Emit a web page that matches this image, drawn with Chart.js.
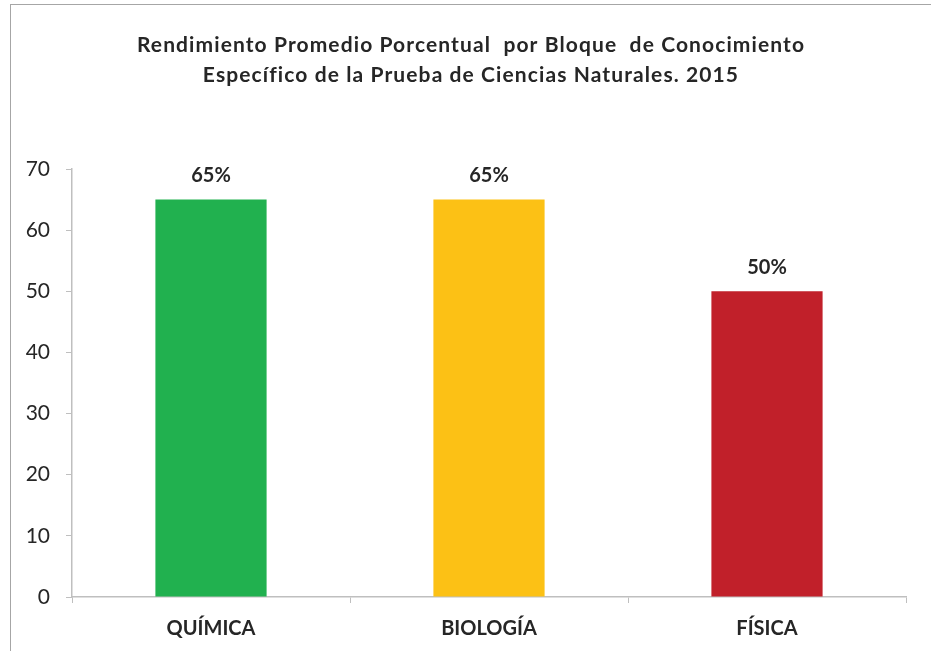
<!DOCTYPE html>
<html lang="es">
  <head>
    <meta charset="utf-8" />
    <title>Rendimiento Promedio Porcentual</title>
    <style>
      html, body { margin: 0; padding: 0; background: #fff; }
      .marco {
        position: absolute; left: 0; top: 0; width: 931px; height: 651px;
      }
      .borde {
        position: absolute; left: 10px; top: 4px; width: 940px; height: 700px;
        border-left: 1px solid #a6a6a6; border-top: 1px solid #a6a6a6;
        pointer-events: none;
      }
    </style>
  </head>
  <body>
    <div class="marco">
      <canvas id="lienzo" width="931" height="651"></canvas>
      <div class="borde"></div>
    </div>

    <script src="https://cdn.jsdelivr.net/npm/chart.js"></script>
    <script>
      const categorias = ["QUÍMICA", "BIOLOGÍA", "FÍSICA"];
      const rendimiento = [65, 65, 50];
      const etiquetas = ["65%", "65%", "50%"];
      const colores = ["#21b14f", "#fcc115", "#c1202a"];
      const titulo = [
        "Rendimiento Promedio Porcentual  por Bloque  de Conocimiento",
        "Específico de la Prueba de Ciencias Naturales. 2015",
      ];

      const fuente = "Lato, 'Open Sans', sans-serif";

      // titulo dibujado a mano (algo mas espaciado que el de Chart.js)
      const tituloGrafico = {
        id: "tituloGrafico",
        afterDraw(chart) {
          const ctx = chart.ctx;
          ctx.save();
          ctx.font = "bold 21px " + fuente;
          ctx.fillStyle = "#262626";
          ctx.textAlign = "center";
          ctx.textBaseline = "middle";
          if ("letterSpacing" in ctx) ctx.letterSpacing = "1.1px";
          titulo.forEach((linea, i) => {
            ctx.fillText(linea, 471, 45 + i * 30);
          });
          ctx.restore();
        },
      };

      // etiquetas encima de cada barra
      const etiquetasBarras = {
        id: "etiquetasBarras",
        afterDatasetsDraw(chart) {
          const ctx = chart.ctx;
          const meta = chart.getDatasetMeta(0);
          ctx.save();
          ctx.font = "bold 20px " + fuente;
          ctx.fillStyle = "#262626";
          ctx.textAlign = "center";
          ctx.textBaseline = "middle";
          meta.data.forEach((barra, i) => {
            ctx.fillText(etiquetas[i], barra.x, barra.y - 24);
          });
          ctx.restore();
        },
      };

      document.addEventListener("DOMContentLoaded", () => {
        const contexto = document.querySelector("#lienzo");
        new Chart(contexto, {
          type: "bar",
          data: {
            labels: categorias,
            datasets: [
              {
                data: rendimiento,
                backgroundColor: colores,
                borderWidth: 0,
                categoryPercentage: 1,
                barPercentage: 0.4,
              },
            ],
          },
          options: {
            responsive: false,
            animation: false,
            layout: { padding: { top: 169, right: 25, bottom: 0, left: 0 } },
            plugins: {
              legend: { display: false },
              tooltip: { enabled: false },
              title: { display: false },
            },
            scales: {
              x: {
                grid: {
                  drawOnChartArea: false,
                  color: "#bfbfbf",
                  tickLength: 6,
                  offset: true,
                },
                border: { color: "#bfbfbf", width: 1.5 },
                ticks: {
                  color: "#262626",
                  padding: 14,
                  font: { family: fuente, size: 20, weight: "bold" },
                },
                afterFit(escala) { escala.height = 54; },
              },
              y: {
                min: 0,
                max: 70,
                ticks: {
                  stepSize: 10,
                  color: "#262626",
                  padding: 16,
                  font: { family: fuente, size: 21 },
                },
                grid: {
                  drawOnChartArea: false,
                  color: "#bfbfbf",
                  tickLength: 6,
                },
                border: { color: "#bfbfbf", width: 1.5 },
                afterFit(escala) { escala.width = 72; },
              },
            },
          },
          plugins: [etiquetasBarras, tituloGrafico],
        });
      });
    </script>
  </body>
</html>
